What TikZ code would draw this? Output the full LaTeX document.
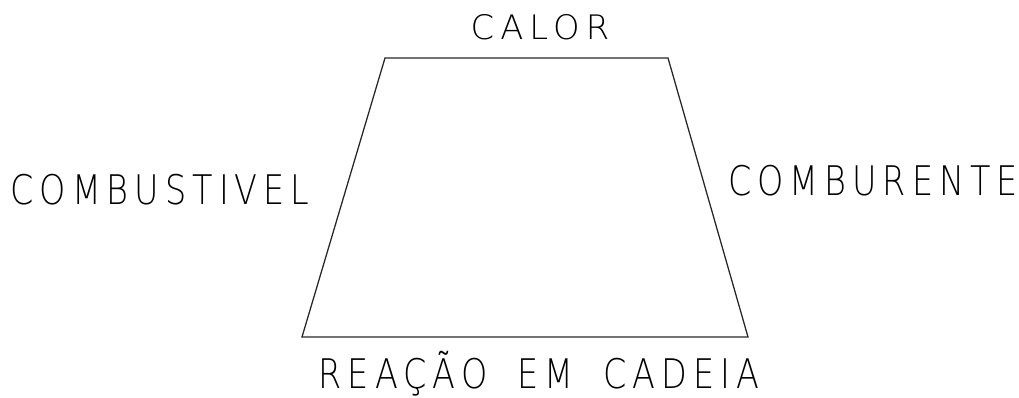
\documentclass[tikz,border=0pt]{standalone}
\usepackage{fontspec}
\usepackage{tikz}
\usetikzlibrary{calc}
\newfontfamily\cadfont[LetterSpace=18]{DejaVu Sans ExtraLight}
\newcommand{\squeezed}[1]{\scalebox{0.82}[1]{#1}}

\begin{document}
\begin{tikzpicture}[x=0.025cm, y=-0.025cm,
  every node/.style = {inner sep=0pt, anchor=base},
  label/.style      = {font=\cadfont\fontsize{29}{29}\selectfont},
  toplabel/.style   = {font=\cadfont\fontsize{24}{24}\selectfont},
  edge/.style       = {draw=black!85, line width=0.9pt, line join=miter},
]
  \useasboundingbox (0,0) rectangle (1019,398);

  % corners of the trapezoid
  \coordinate (tl) at (385,58);
  \coordinate (tr) at (668,58);
  \coordinate (br) at (748,337);
  \coordinate (bl) at (302,337);

  \draw[edge] (tl) -- (tr) -- (br) -- (bl) -- cycle;

  \node[toplabel] (calor) at (540,40) {CALOR};
  \node[label] (combustivel) at (160,205) {\squeezed{COMBUSTIVEL}};
  \node[label] (comburente) at (873,196) {\squeezed{COMBURENTE}};
  \node[label] (reacao) at (539,389)
    {\squeezed{REAÇÃO\ \hspace{0.4em}EM\ \hspace{0.4em}CADEIA}};
\end{tikzpicture}
\end{document}
